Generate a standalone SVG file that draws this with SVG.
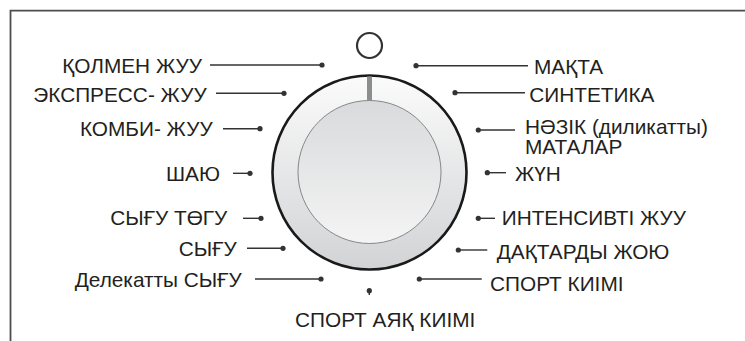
<svg xmlns="http://www.w3.org/2000/svg" width="745" height="341" viewBox="0 0 745 341">
<defs>
<linearGradient id="ring" x1="0" y1="0" x2="0" y2="1">
<stop offset="0" stop-color="#fbfbfb"/>
<stop offset="1" stop-color="#d2d3d5"/>
</linearGradient>
<linearGradient id="face" x1="0" y1="0" x2="0" y2="1">
<stop offset="0" stop-color="#d9dadc"/>
<stop offset="1" stop-color="#f4f4f4"/>
</linearGradient>
<style>
text{font-family:"Liberation Sans",Arial,sans-serif;font-size:20.8px;fill:#231f20}
.l{text-anchor:end}
.c line{stroke:#333;stroke-width:1.4}
.c circle{fill:#333}
</style>
</defs>
<rect width="745" height="341" fill="#fff"/>
<g id="frame" fill="none" stroke="#4d4d4d" stroke-width="1.8">
<path d="M10.5 341 V10.7 H745"/>
</g>
<g id="dial">
<circle cx="369.5" cy="45.5" r="12.5" fill="none" stroke="#333" stroke-width="2.2"/>
<circle cx="369.5" cy="172.5" r="97" fill="url(#ring)" stroke="#1a1a1a" stroke-width="2.6"/>
<circle cx="369.5" cy="172" r="71.5" fill="url(#face)" stroke="#6d6e70" stroke-width="0.8"/>
<rect x="367" y="76.5" width="5" height="24.5" fill="#8c8d8f"/>
</g>
<g class="c" id="connectors">
<line x1="210" y1="65" x2="322" y2="65"/><circle cx="322" cy="65" r="2.6"/>
<line x1="216" y1="93.3" x2="284" y2="93.3"/><circle cx="284" cy="93.3" r="2.6"/>
<line x1="223" y1="128.7" x2="260" y2="128.7"/><circle cx="260" cy="128.7" r="2.6"/>
<line x1="233" y1="173.3" x2="250" y2="173.3"/><circle cx="250" cy="173.3" r="2.6"/>
<line x1="243" y1="218.3" x2="261" y2="218.3"/><circle cx="261" cy="218.3" r="2.6"/>
<line x1="247" y1="248.3" x2="283" y2="248.3"/><circle cx="283" cy="248.3" r="2.6"/>
<line x1="255" y1="279" x2="321" y2="279"/><circle cx="321" cy="279" r="2.6"/>
<line x1="369.3" y1="290.7" x2="369.3" y2="295"/><circle cx="369.3" cy="290.7" r="2.6"/>
<line x1="416" y1="65.7" x2="528" y2="65.7"/><circle cx="416" cy="65.7" r="2.6"/>
<line x1="455" y1="92.7" x2="525" y2="92.7"/><circle cx="455" cy="92.7" r="2.6"/>
<line x1="478.3" y1="130" x2="515" y2="130"/><circle cx="478.3" cy="130" r="2.6"/>
<line x1="487.3" y1="172.7" x2="506" y2="172.7"/><circle cx="487.3" cy="172.7" r="2.6"/>
<line x1="478.3" y1="218.3" x2="495" y2="218.3"/><circle cx="478.3" cy="218.3" r="2.6"/>
<line x1="458.3" y1="250" x2="487.3" y2="250"/><circle cx="458.3" cy="250" r="2.6"/>
<line x1="419.3" y1="279" x2="481.7" y2="279"/><circle cx="419.3" cy="279" r="2.6"/>
</g>
<g id="n-qolmen"><text class="l" x="202" y="73.3">ҚОЛМЕН ЖУУ</text></g>
<g id="n-express"><text class="l" x="206.7" y="101.7">ЭКСПРЕСС- ЖУУ</text></g>
<g id="n-kombi"><text class="l" x="212.7" y="135.5">КОМБИ- ЖУУ</text></g>
<g id="n-shayu"><text class="l" x="220" y="180.5">ШАЮ</text></g>
<g id="n-syghu-togu"><text class="l" x="227.3" y="225">СЫҒУ ТӨГУ</text></g>
<g id="n-syghu"><text class="l" x="236.7" y="255.7">СЫҒУ</text></g>
<g id="n-delicate-spin"><text class="l" x="241.7" y="287.3">Делекатты СЫҒУ</text></g>
<g id="n-sport-shoes"><text x="295" y="326.7">СПОРТ АЯҚ КИІМІ</text></g>
<g id="n-makta"><text x="534" y="74">МАҚТА</text></g>
<g id="n-synthetic"><text x="529.3" y="101.7">СИНТЕТИКА</text></g>
<g id="n-delicate"><text><tspan x="525" y="134">НӘЗІК (диликатты)</tspan><tspan x="525" y="154">МАТАЛАР</tspan></text></g>
<g id="n-wool"><text x="515" y="180.7">ЖҮН</text></g>
<g id="n-intensive"><text x="501.7" y="225">ИНТЕНСИВТІ ЖУУ</text></g>
<g id="n-stain"><text x="496.7" y="259.3">ДАҚТАРДЫ ЖОЮ</text></g>
<g id="n-sportswear"><text x="490" y="290.7">СПОРТ КИІМІ</text></g>
</svg>
